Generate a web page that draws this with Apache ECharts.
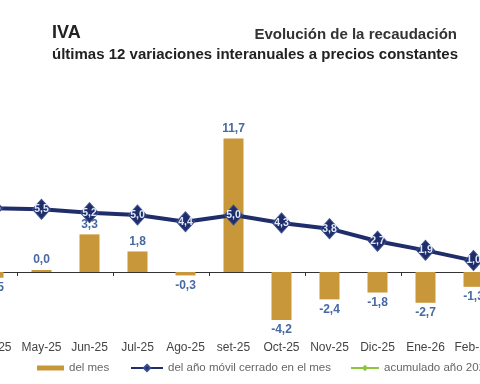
<!DOCTYPE html>
<html><head><meta charset="utf-8">
<script src="https://cdn.jsdelivr.net/npm/echarts@6/dist/echarts.min.js"></script>
<style>html,body{margin:0;padding:0;background:#fff;overflow:hidden;width:480px;height:384px;position:relative}
#c{width:600px;height:384px;position:absolute;left:-79px;top:0}</style>
</head><body><div id="c"></div>
<script>
const categories = ['Mar-25','Abr-25','May-25','Jun-25','Jul-25','Ago-25','set-25','Oct-25','Nov-25','Dic-25','Ene-26','Feb-26'];
const delMes = [1.0, -0.5, 0.0, 3.3, 1.8, -0.3, 11.7, -4.2, -2.4, -1.8, -2.7, -1.3];
const anioMovil = [5.8, 5.6, 5.5, 5.2, 5.0, 4.4, 5.0, 4.3, 3.8, 2.7, 1.9, 1.0];
const acumulado = [];

const fmt = v => v.toFixed(1).replace('.', ',');
const FONT = '"Liberation Sans", Arial, sans-serif';
const OFF = 79; // container offset (px) to the left of the visible window

const chart = echarts.init(document.getElementById('c'));
chart.setOption({
  animation: false,
  textStyle: { fontFamily: FONT },
  title: [
    { text: 'IVA', left: 52 + OFF, top: 24, padding: 0, textStyle: { fontSize: 18, fontWeight: 'bold', color: '#222', fontFamily: FONT } },
    { text: 'Evolución de la recaudación', right: 600 - OFF - 457, top: 27, padding: 0, textStyle: { fontSize: 15, fontWeight: 'bold', color: '#333', fontFamily: FONT } },
    { text: 'últimas 12 variaciones interanuales a precios constantes', left: 52 + OFF, top: 47, padding: 0, textStyle: { fontSize: 15, fontWeight: 'bold', color: '#222', fontFamily: FONT } }
  ],
  legend: [
    { left: 37 + OFF, top: 362, padding: 0, itemWidth: 27, itemHeight: 5, itemGap: 4, textStyle: { fontSize: 11.5, color: '#666' },
      data: [{ name: 'del mes', icon: 'rect' }] },
    { left: 130 + OFF, top: 362, padding: 0, itemWidth: 32, itemHeight: 8, itemGap: 2, textStyle: { fontSize: 11.5, color: '#666' },
      data: ['del año móvil cerrado en el mes'] },
    { left: 350 + OFF, top: 362, padding: 0, itemWidth: 28, itemHeight: 8, itemGap: 2, textStyle: { fontSize: 11.5, color: '#666' },
      data: ['acumulado año 2026'] }
  ],
  grid: { left: 0.5, width: 576, top: 123.8, bottom: 43.6, containLabel: false },
  xAxis: [
    { type: 'category', data: categories, boundaryGap: true,
      axisLine: { onZero: true, lineStyle: { color: '#333', width: 1 } },
      axisTick: { show: true, length: 4, inside: false, lineStyle: { color: '#333' } },
      axisLabel: { show: false } },
    { type: 'category', data: categories, boundaryGap: true, position: 'bottom',
      axisLine: { show: false }, axisTick: { show: false },
      axisLabel: { show: true, interval: 0, margin: 1, fontSize: 12, color: '#444' } }
  ],
  yAxis: { type: 'value', min: -6, max: 13, show: false, splitLine: { show: false } },
  series: [
    { name: 'del mes', type: 'bar', xAxisIndex: 0, barWidth: 20, barMinHeight: 2,
      itemStyle: { color: '#c8973a' },
      data: delMes.map(v => ({ value: v, label: { position: v < 0 ? 'bottom' : 'top' } })),
      label: { show: true, distance: 4, fontSize: 12, fontWeight: 'bold', color: '#4669a3',
        formatter: p => fmt(p.value) } },
    { name: 'del año móvil cerrado en el mes', type: 'line', xAxisIndex: 0, data: anioMovil,
      lineStyle: { color: '#1f2d6b', width: 4 }, itemStyle: { color: '#1f2d6b', borderColor: '#3b4f8f', borderWidth: 1 },
      symbol: 'diamond', symbolSize: [18, 20], z: 5,
      label: { show: true, position: 'inside', fontSize: 10.5, fontWeight: 'bold', color: '#dfe9fb',
        formatter: p => fmt(p.value) } },
    { name: 'acumulado año 2026', type: 'line', xAxisIndex: 0, data: acumulado,
      lineStyle: { color: '#8cc63e', width: 4 }, itemStyle: { color: '#8cc63e' }, symbol: 'diamond', symbolSize: 6 }
  ]
});
</script></body></html>
